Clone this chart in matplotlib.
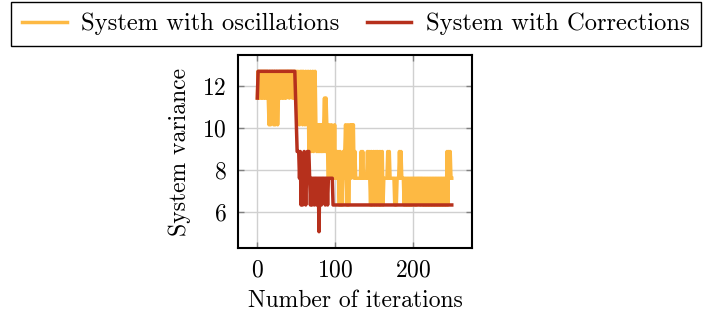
import numpy as np
import matplotlib.pyplot as plt

plt.rcParams['font.family'] = 'serif'
plt.rcParams['font.serif'] = ['cmr10']
plt.rcParams['axes.formatter.use_mathtext'] = True
plt.rcParams['mathtext.fontset'] = 'cm'

# system variance per iteration
osc_variance = [
    11.43, 12.7, 11.43, 12.7, 11.43, 12.7, 11.43, 12.7, 11.43, 12.7,
    11.43, 12.7, 11.43, 12.7, 11.43, 10.16, 12.7, 10.16, 11.43, 12.7,
    11.43, 10.16, 12.7, 10.16, 11.43, 12.7, 10.16, 11.43, 12.7, 11.43,
    12.7, 11.43, 12.7, 11.43, 12.7, 11.43, 12.7, 11.43, 12.7, 12.7,
    12.7, 11.43, 12.7, 12.7, 12.7, 11.43, 12.7, 11.43, 12.7, 11.43,
    12.7, 10.16, 12.7, 11.43, 10.16, 12.7, 11.43, 12.7, 10.16, 12.7,
    11.43, 10.16, 12.7, 11.43, 10.16, 12.7, 8.89, 11.43, 12.7, 8.89,
    10.16, 12.7, 8.89, 11.43, 12.7, 10.16, 8.89, 10.16, 8.89, 10.16,
    8.89, 10.16, 8.89, 10.16, 8.89, 10.16, 11.43, 8.89, 11.43, 10.16,
    8.89, 7.62, 10.16, 7.62, 8.89, 10.16, 7.62, 8.89, 7.62, 10.16,
    7.62, 8.89, 7.62, 8.89, 7.62, 6.35, 8.89, 6.35, 7.62, 6.35,
    8.89, 7.62, 8.89, 10.16, 7.62, 6.35, 10.16, 6.35, 8.89, 10.16,
    7.62, 10.16, 8.89, 10.16, 7.62, 8.89, 7.62, 7.62, 7.62, 7.62,
    7.62, 7.62, 7.62, 8.89, 7.62, 8.89, 7.62, 7.62, 7.62, 7.62,
    7.62, 8.89, 7.62, 8.89, 7.62, 6.35, 8.89, 6.35, 7.62, 8.89,
    6.35, 7.62, 8.89, 6.35, 8.89, 7.62, 6.35, 8.89, 6.35, 7.62,
    8.89, 6.35, 7.62, 7.62, 7.62, 7.62, 7.62, 8.89, 7.62, 8.89,
    7.62, 7.62, 7.62, 7.62, 7.62, 7.62, 6.35, 7.62, 6.35, 7.62,
    7.62, 7.62, 8.89, 7.62, 8.89, 7.62, 7.62, 7.62, 6.35, 7.62,
    6.35, 7.62, 6.35, 7.62, 6.35, 7.62, 6.35, 7.62, 6.35, 7.62,
    7.62, 7.62, 6.35, 7.62, 6.35, 7.62, 7.62, 7.62, 7.62, 6.35,
    7.62, 7.62, 6.35, 7.62, 6.35, 7.62, 6.35, 7.62, 6.35, 7.62,
    6.35, 7.62, 6.35, 7.62, 6.35, 7.62, 6.35, 7.62, 6.35, 7.62,
    6.35, 7.62, 6.35, 7.62, 6.35, 7.62, 6.35, 7.62, 6.35, 7.62,
    6.35, 7.62, 6.35, 8.89, 6.35, 8.89, 7.62, 8.89, 7.62, 7.62,
]

# corrected system: variance levels and how many iterations each lasts
corr_levels = [11.43, 12.7, 11.43, 10.16, 8.89, 7.62, 8.89, 6.35, 7.62, 6.35,
               7.62, 8.89, 7.62, 6.35, 7.62, 8.89, 7.62, 6.35, 7.62, 6.35,
               7.62, 6.35, 7.62, 6.35, 7.62, 5.08, 7.62, 6.35, 7.62, 6.35,
               7.62, 6.35, 7.62, 6.35]
corr_runs = [1, 48, 1, 1, 3, 1, 1, 1, 1, 1,
             1, 1, 1, 1, 1, 3, 1, 1, 1, 1,
             2, 1, 2, 1, 2, 1, 2, 1, 4, 1,
             2, 1, 6, 153]

corr_variance = np.repeat(corr_levels, corr_runs)
iters = np.arange(len(osc_variance))

yellow = '#fdb943'
red = '#b6301c'

fig = plt.figure(figsize=(7.12, 3.15), dpi=100)
ax = fig.add_axes([0.334, 0.213, 0.329, 0.612])

ax.plot(iters, osc_variance, color=yellow, lw=2.5, label='System with oscillations', zorder=2)
ax.plot(iters, corr_variance, color=red, lw=2.5, label='System with Corrections', zorder=3)

ax.set_xlim(-25, 275)
ax.set_ylim(4.31, 13.47)
ax.set_xticks([0, 100, 200])
ax.set_yticks([6, 8, 10, 12])
ax.grid(True, color='#d0d0d0', lw=1.0)
ax.set_axisbelow(True)
ax.tick_params(direction='in', length=4, width=1, color='#808080', labelsize=17,
               top=True, right=True, pad=8)
for sp in ax.spines.values():
    sp.set_linewidth(1.5)

ax.set_xlabel('Number of iterations', fontsize=17, labelpad=6)
ax.set_ylabel('System variance', fontsize=17, labelpad=8)

fig.legend(loc='upper center', bbox_to_anchor=(0.5, 0.995), ncol=2, fontsize=17.7,
           frameon=True, fancybox=False, edgecolor='black', framealpha=1,
           handlelength=1.8, handletextpad=0.6, columnspacing=1.1,
           borderpad=0.45, borderaxespad=0)

fig.savefig('out.png', dpi=100)
